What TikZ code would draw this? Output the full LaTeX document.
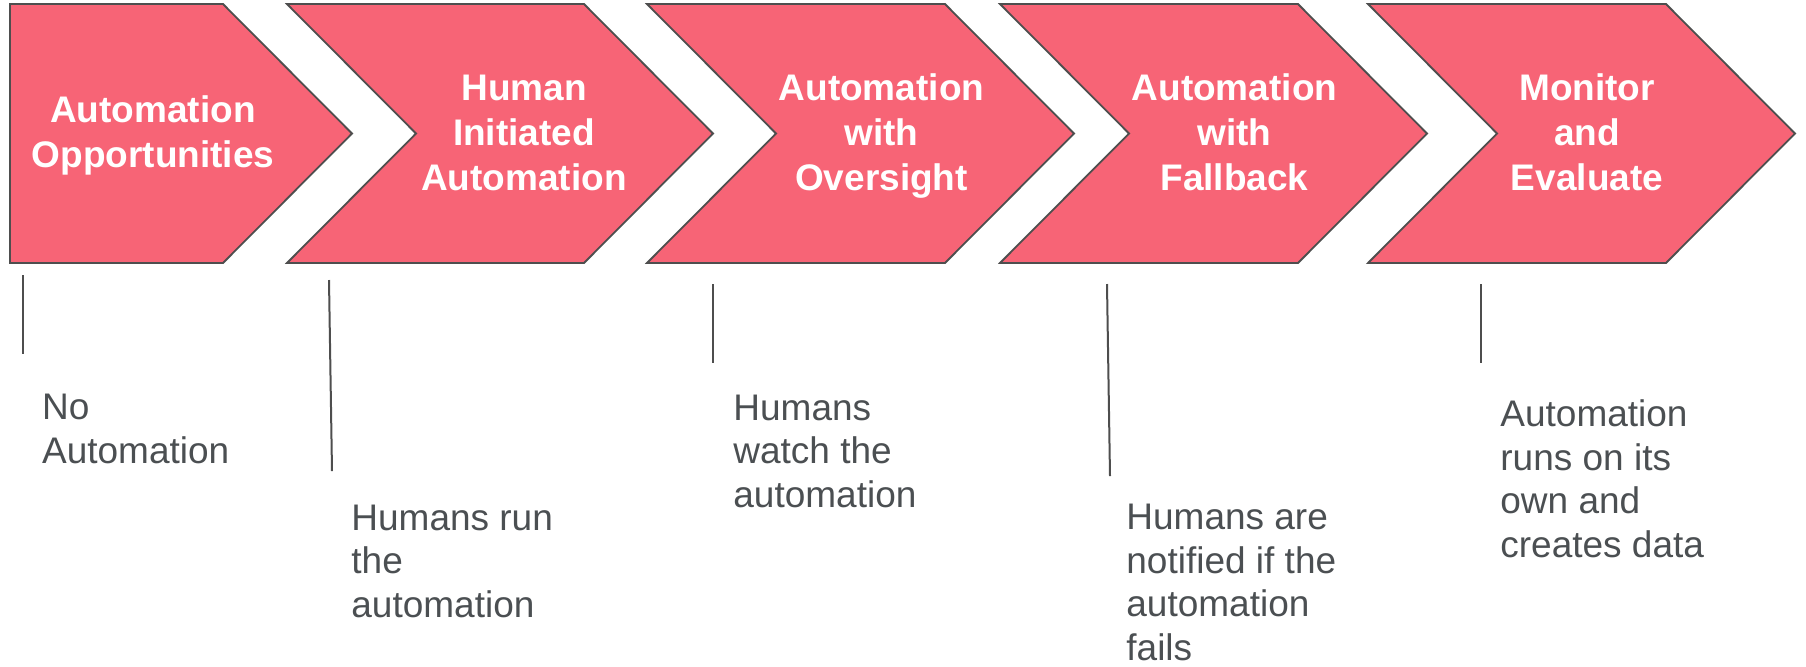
\documentclass[tikz,border=0pt]{standalone}
\usepackage{fontspec}
\setmainfont{Liberation Sans}
\definecolor{chevfill}{HTML}{F76476}
\definecolor{chevline}{HTML}{4E4E4E}
\definecolor{desctext}{HTML}{4B4F52}
\tikzset{
  chev/.style={fill=chevfill, draw=chevline, line width=0.9pt, line join=miter},
  title/.style={text=white, inner sep=0pt, align=center, anchor=base,
    font=\fontsize{18.5pt}{22.5pt}\selectfont\bfseries},
  desc/.style={text=desctext, inner sep=0pt, align=left, anchor=base west,
    font=\fontsize{18.5pt}{21.75pt}\selectfont},
  tick/.style={draw=chevline, line width=1pt}
}
\begin{document}
\begin{tikzpicture}[x=0.5pt,y=-0.5pt]
\useasboundingbox (0,0) rectangle (1806,666);
% chevrons
\path[chev] (10,4) -- (223,4) -- (352,133.5) -- (223,263) -- (10,263) -- cycle;
\path[chev] (287,4) -- (584,4) -- (713,133.5) -- (584,263) -- (287,263) -- (416,133.5) -- cycle;
\path[chev] (647,4) -- (945,4) -- (1074,133.5) -- (945,263) -- (647,263) -- (776,133.5) -- cycle;
\path[chev] (1000,4) -- (1298,4) -- (1427,133.5) -- (1298,263) -- (1000,263) -- (1129,133.5) -- cycle;
\path[chev] (1368,4) -- (1666,4) -- (1795,133.5) -- (1666,263) -- (1368,263) -- (1497,133.5) -- cycle;
% titles (anchor = baseline of last line)
\node[title] (t1) at (153,167.5) {Automation\\Opportunities};
\node[title] (t2) at (524,190) {Human\\Initiated\\Automation};
\node[title] (t3) at (881.5,190) {Automation\\with\\Oversight};
\node[title] (t4) at (1234.5,190) {Automation\\with\\Fallback};
\node[title] (t5) at (1587,190) {Monitor\\and\\Evaluate};
% descriptions (anchor = baseline of last line)
\node[desc] (d1) at (41.7,463) {No\\Automation};
\node[desc] (d2) at (351,617) {Humans run\\the\\automation};
\node[desc] (d3) at (733,507) {Humans\\watch the\\automation};
\node[desc] (d4) at (1126,660) {Humans are\\notified if the\\automation\\fails};
\node[desc] (d5) at (1500,557) {Automation\\runs on its\\own and\\creates data};
% tick lines
\coordinate (l1a) at (23.3,275); \coordinate (l1b) at (23.3,354);
\coordinate (l2a) at (329,280);  \coordinate (l2b) at (332,471);
\coordinate (l3a) at (713,284);  \coordinate (l3b) at (713,363);
\coordinate (l4a) at (1107,284); \coordinate (l4b) at (1110,476);
\coordinate (l5a) at (1481,284); \coordinate (l5b) at (1481,363);
\draw[tick] (l1a) -- (l1b);
\draw[tick] (l2a) -- (l2b);
\draw[tick] (l3a) -- (l3b);
\draw[tick] (l4a) -- (l4b);
\draw[tick] (l5a) -- (l5b);
\end{tikzpicture}
\end{document}
